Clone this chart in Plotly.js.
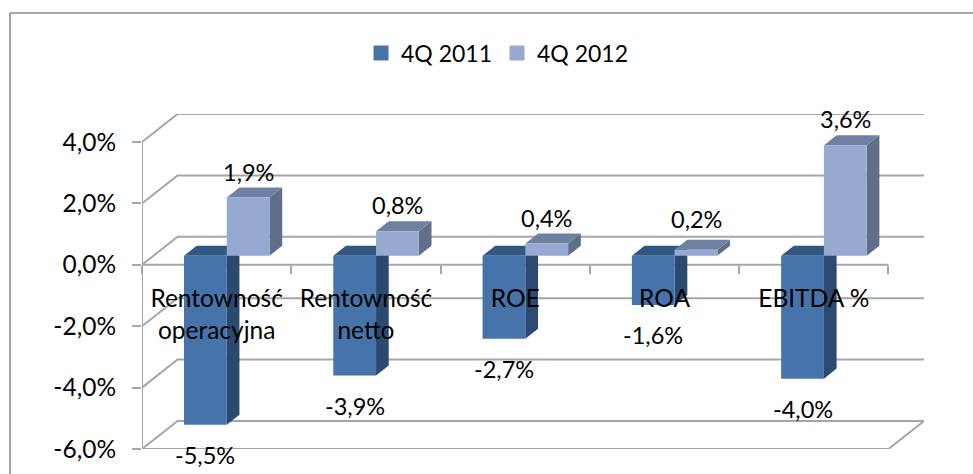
<!DOCTYPE html>
<html><head><meta charset="utf-8">
<script src="https://cdn.plot.ly/plotly-3.0.1.min.js"></script>
<style>html,body{margin:0;padding:0;background:#fff}#c{width:973px;height:474px}</style>
</head><body><div id="c"></div>
<script>
const categories = ['Rentowność<br>operacyjna', 'Rentowność<br>netto', 'ROE', 'ROA', 'EBITDA %'];
const seriesNames = ['4Q 2011', '4Q 2012'];
const values2011 = [-5.5, -3.9, -2.7, -1.6, -4.0];
const values2012 = [1.9, 0.8, 0.4, 0.2, 3.6];
const yTicks = [-6, -4, -2, 0, 2, 4];
const yTickText = ['-6,0%', '-4,0%', '-2,0%', '0,0%', '2,0%', '4,0%'];

const FONT = 'Lato, Carlito, sans-serif';
const colors = [
  {front: '#4673A9', side: '#2C4A70', top: '#33587F'},
  {front: '#95A9D1', side: '#5F6E89', top: '#6E81A2'}
];
const GRID = '#A6A6A6';
const n = categories.length;
// oblique projection: depth of the box, in axis units
const DX = 0.238, DY = 0.914;
const barW = 0.2865, barStart = 0.205, barDepth = 0.357, barFrontAt = 0.32;

function line(pts) {
  return {type: 'path', layer: 'below', xref: 'x', yref: 'y',
    path: 'M' + pts.map(p => p.join(' ')).join('L'),
    line: {color: GRID, width: 2}};
}
function face(pts, color) {
  return {type: 'path', layer: 'below', xref: 'x', yref: 'y',
    path: 'M' + pts.map(p => p.join(' ')).join('L') + 'Z',
    fillcolor: color, line: {width: 0}};
}

const shapes = [];
// walls
yTicks.forEach(v => {
  shapes.push(line([[0, v], [DX, v + DY], [n + DX, v + DY]]));
});
shapes.push(line([[0, -6], [0, 4]]));
shapes.push(line([[0, -6], [n, -6], [n + DX, -6 + DY]]));
shapes.push(line([[0, 0], [n, 0]]));

// bar depth faces
const base = barFrontAt * DY;
const bx0 = barFrontAt * DX, ddx = barDepth * DX, ddy = barDepth * DY;
[values2011, values2012].forEach((vals, s) => {
  vals.forEach((v, i) => {
    const l = i + barStart + bx0 + s * barW, r = l + barW;
    const hi = base + Math.max(v, 0), lo = base + Math.min(v, 0);
    shapes.push(face([[r, lo], [r + ddx, lo + ddy], [r + ddx, hi + ddy], [r, hi]], colors[s].side));
    shapes.push(face([[l, hi], [r, hi], [r + ddx, hi + ddy], [l + ddx, hi + ddy]], colors[s].top));
  });
});

// outer chart border
const PW = 782, PH = 449, PL = 142, PLOT_H = 335;
const px = x => (x - PL) / PW, py = y => (PH - y) / PH;
shapes.push({type: 'line', xref: 'paper', yref: 'paper', x0: px(10), x1: px(10), y0: py(13), y1: py(474),
  line: {color: '#8C8C8C', width: 1.6}});
shapes.push({type: 'line', xref: 'paper', yref: 'paper', x0: px(10), x1: px(973), y0: py(13), y1: py(13),
  line: {color: '#8C8C8C', width: 1.6}});

const fmt = v => v.toFixed(1).replace('.', ',') + '%';
const annotations = [];
[values2011, values2012].forEach((vals, s) => {
  vals.forEach((v, i) => {
    annotations.push({
      x: i + barStart + bx0 + s * barW + barW / 2,
      y: base + v, xref: 'x', yref: 'y', text: fmt(v), showarrow: false,
      yshift: v > 0 ? (v < 0.3 ? 31 : 26) : -30, xanchor: 'center', yanchor: 'middle',
      font: {family: FONT, size: 23.5, color: '#000'}
    });
  });
});

const traces = [values2011, values2012].map((vals, s) => ({
  type: 'bar', name: seriesNames[s], showlegend: false,
  x: vals.map((_, i) => i + barStart + bx0 + s * barW + barW / 2),
  y: vals, base: vals.map(() => base), width: barW,
  marker: {color: colors[s].front, line: {width: 0}},
  hoverinfo: 'y'
}));
[0, 1].forEach(s => traces.push({
  type: 'scatter', mode: 'markers', name: seriesNames[s], x: [null], y: [null],
  marker: {symbol: 'square', size: 15, color: colors[s].front}
}));

Plotly.newPlot('c', traces, {
  width: 973, height: 474,
  margin: {l: PL, r: 49, t: 0, b: 25, pad: 0},
  paper_bgcolor: '#fff', plot_bgcolor: 'rgba(0,0,0,0)',
  barmode: 'overlay',
  font: {family: FONT, size: 23, color: '#000'},
  showlegend: true,
  legend: {orientation: 'h', x: 0.454, xanchor: 'center', y: py(53), yanchor: 'middle',
    bgcolor: 'rgba(0,0,0,0)', font: {family: FONT, size: 23}, itemwidth: 30},
  xaxis: {
    range: [0, n + DX], anchor: 'free', position: (6 / (10 + DY)) * (PLOT_H / PH),
    tickmode: 'array', tickvals: categories.map((_, i) => i + 0.5), ticktext: categories,
    ticks: 'outside', ticklen: 12, tickcolor: 'rgba(0,0,0,0)', tickangle: 0,
    minor: {tickmode: 'array', tickvals: Array.from({length: n + 1}, (_, i) => i),
      ticks: 'outside', ticklen: 8, tickcolor: GRID, tickwidth: 2, showgrid: false},
    showgrid: false, zeroline: false, showline: false,
    tickfont: {family: FONT, size: 24.5}
  },
  yaxis: {
    domain: [0, PLOT_H / PH],
    range: [-6, 4 + DY], tickmode: 'array', tickvals: yTicks, ticktext: yTickText,
    ticks: 'outside', ticklen: 9, tickcolor: GRID, tickwidth: 2, ticklabelstandoff: 11,
    showgrid: false, zeroline: false, showline: false,
    tickfont: {family: FONT, size: 24.5}
  },
  shapes, annotations
}, {displayModeBar: false});
</script></body></html>
